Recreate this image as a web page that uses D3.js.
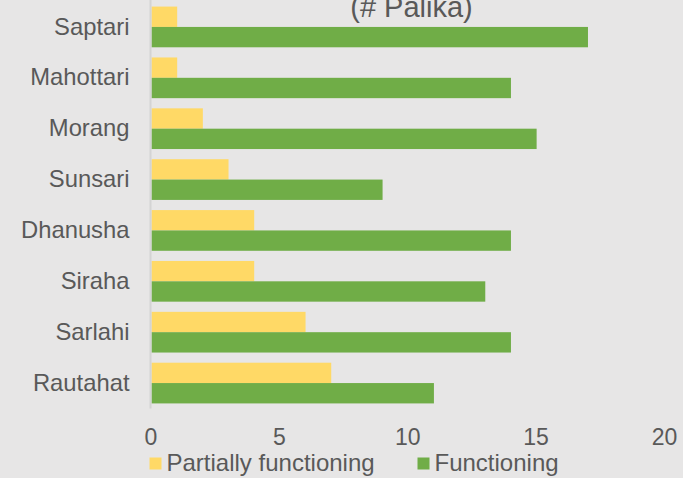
<!DOCTYPE html>
<html>
<head>
<meta charset="utf-8">
<script src="https://cdn.jsdelivr.net/npm/d3@7"></script>
<style>
html,body{margin:0;padding:0;background:#e7e6e6;}
svg{display:block;}
text{font-family:"Liberation Sans",Arial,sans-serif;fill:#595959;}
</style>
</head>
<body>
<svg id="chart" width="683" height="478"></svg>
<script>
const categories = ["Saptari","Mahottari","Morang","Sunsari","Dhanusha","Siraha","Sarlahi","Rautahat"];
const partial = [1,1,2,3,4,4,6,7];
const functioning = [17,14,15,9,14,13,14,11];
const seriesNames = ["Partially functioning","Functioning"];
const seriesColors = ["#ffd966","#70ad47"];
const xTicks = [0,5,10,15,20];
const titleText = "(# Palika)";

const svg = d3.select("#chart");
const W = 683, H = 478;
svg.append("rect").attr("width",W).attr("height",H).attr("fill","#e7e6e6");

const x = d3.scaleLinear().domain([0,20]).range([151.5,665]);
const y = d3.scaleBand().domain(categories).range([1.5,408.5]).paddingInner(0.2).paddingOuter(0.1);
const sub = d3.scaleBand().domain(seriesNames).range([0,y.bandwidth()]);

const data = categories.map((c,i)=>({cat:c, vals:[partial[i],functioning[i]]}));

const g = svg.append("g");
data.forEach(d=>{
  d.vals.forEach((v,j)=>{
    g.append("rect")
      .attr("x",x(0))
      .attr("y",y(d.cat)+sub(seriesNames[j]))
      .attr("width",x(v)-x(0))
      .attr("height",sub.bandwidth())
      .attr("fill",seriesColors[j]);
  });
});

// vertical axis line
svg.append("line").attr("x1",150.5).attr("x2",150.5).attr("y1",0).attr("y2",408.5)
  .attr("stroke","#d4d4d4").attr("stroke-width",2);

// category labels
const yAxis = d3.axisLeft(y).tickSize(0).tickPadding(20.5);
const ya = svg.append("g").attr("transform","translate(150,0)").call(yAxis);
ya.select(".domain").remove();
ya.selectAll("text").style("font-size","23.8px").attr("fill","#595959")
  .style("font-family","'Liberation Sans',Arial,sans-serif");

// x tick labels
const xAxis = d3.axisBottom(x).tickValues(xTicks).tickSize(0).tickPadding(0);
const xa = svg.append("g").attr("transform","translate(-1,429)").call(xAxis);
xa.select(".domain").remove();
xa.selectAll("text").style("font-size","23px").attr("fill","#595959").attr("dy","0.71em")
  .style("font-family","'Liberation Sans',Arial,sans-serif");

// title (clipped at top)
svg.append("text").attr("x",411.5).attr("y",16.5).attr("text-anchor","middle")
  .style("font-size","29px").text(titleText);

// legend
const legX = [149.5, 417.5];
seriesNames.forEach((n,i)=>{
  svg.append("rect").attr("x",legX[i]).attr("y",457.5).attr("width",12).attr("height",12).attr("fill",seriesColors[i]);
  svg.append("text").attr("x",legX[i]+17).attr("y",471).style("font-size","24px").text(n);
});
</script>
</body>
</html>
